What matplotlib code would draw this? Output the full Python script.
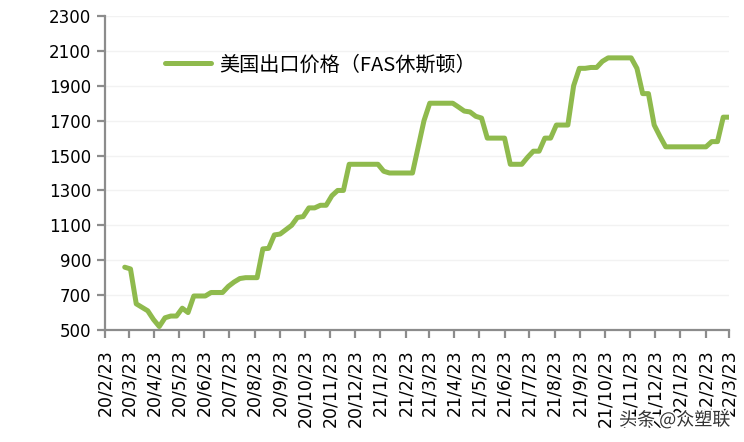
import matplotlib
matplotlib.use("Agg")
import matplotlib.pyplot as plt
import matplotlib.patheffects as pe
import pandas as pd
from datetime import datetime

plt.rcParams['font.family'] = ['DejaVu Sans', 'Noto Sans CJK SC']

# ---- data ----
series_name = "美国出口价格（FAS休斯顿）"
start_date = "2020-03-18"
prices = [
    860, 850, 650, 630, 610, 560, 520, 570, 580, 580,
    625, 600, 695, 695, 695, 715, 715, 715, 750, 775,
    795, 800, 800, 800, 965, 968, 1045, 1050, 1075, 1100,
    1145, 1150, 1200, 1200, 1215, 1215, 1270, 1300, 1300, 1450,
    1450, 1450, 1450, 1450, 1450, 1410, 1400, 1400, 1400, 1400,
    1400, 1550, 1700, 1800, 1800, 1800, 1800, 1800, 1778, 1755,
    1750, 1725, 1715, 1600, 1600, 1600, 1600, 1450, 1450, 1450,
    1490, 1525, 1525, 1600, 1600, 1675, 1675, 1675, 1900, 2000,
    2000, 2005, 2005, 2040, 2060, 2060, 2060, 2060, 2060, 2000,
    1855, 1855, 1675, 1610, 1550, 1550, 1550, 1550, 1550, 1550,
    1550, 1550, 1580, 1580, 1720, 1720,
]
dates = pd.date_range(start_date, periods=len(prices), freq="7D")

tick_labels = [
    "20/2/23", "20/3/23", "20/4/23", "20/5/23", "20/6/23", "20/7/23",
    "20/8/23", "20/9/23", "20/10/23", "20/11/23", "20/12/23",
    "21/1/23", "21/2/23", "21/3/23", "21/4/23", "21/5/23", "21/6/23",
    "21/7/23", "21/8/23", "21/9/23", "21/10/23", "21/11/23", "21/12/23",
    "22/1/23", "22/2/23", "22/3/23",
]
tick_dates = [datetime.strptime(t, "%y/%m/%d") for t in tick_labels]
y_ticks = list(range(500, 2301, 200))

line_color = "#8fba4d"
axis_color = "#8c8c8c"

fig = plt.figure(figsize=(7.44, 4.42), dpi=100)
ax = fig.add_axes([105 / 744, 1 - 330 / 442, (729 - 105) / 744, (330 - 16) / 442])

ax.plot(dates, prices, color=line_color, lw=3.6, solid_joinstyle="round",
        solid_capstyle="round", label=series_name, zorder=3)

ax.set_xlim(tick_dates[0], tick_dates[-1])
ax.set_ylim(500, 2300)
ax.set_yticks(y_ticks)
ax.set_yticklabels([str(v) for v in y_ticks], fontsize=12)
ax.set_xticks(tick_dates)
ax.set_xticklabels(tick_labels, rotation=90, fontsize=12.5)

ax.grid(axis="y", color="#f2f2f2", lw=1)
ax.set_axisbelow(True)
for s in ["top", "right"]:
    ax.spines[s].set_visible(False)
for s in ["left", "bottom"]:
    ax.spines[s].set_color(axis_color)
    ax.spines[s].set_linewidth(1.6)
ax.tick_params(axis="both", color=axis_color, width=1.6, length=6,
               labelcolor="black")
ax.tick_params(axis="x", pad=8)
ax.tick_params(axis="y", pad=4)

leg = ax.legend(loc="upper left", bbox_to_anchor=(0.067, 0.935), frameon=False,
                handlelength=2.3, handletextpad=0.4,
                prop={"family": ["Noto Sans CJK SC", "DejaVu Sans"], "size": 14.5})

fig.text(730 / 744, 1 - 420 / 442, "头条 @众塑联", ha="right", va="center",
         fontsize=13, color="#333333", family=["Noto Sans CJK SC", "DejaVu Sans"],
         path_effects=[pe.withStroke(linewidth=2.5, foreground="white")])

fig.savefig("out.png", dpi=100)
